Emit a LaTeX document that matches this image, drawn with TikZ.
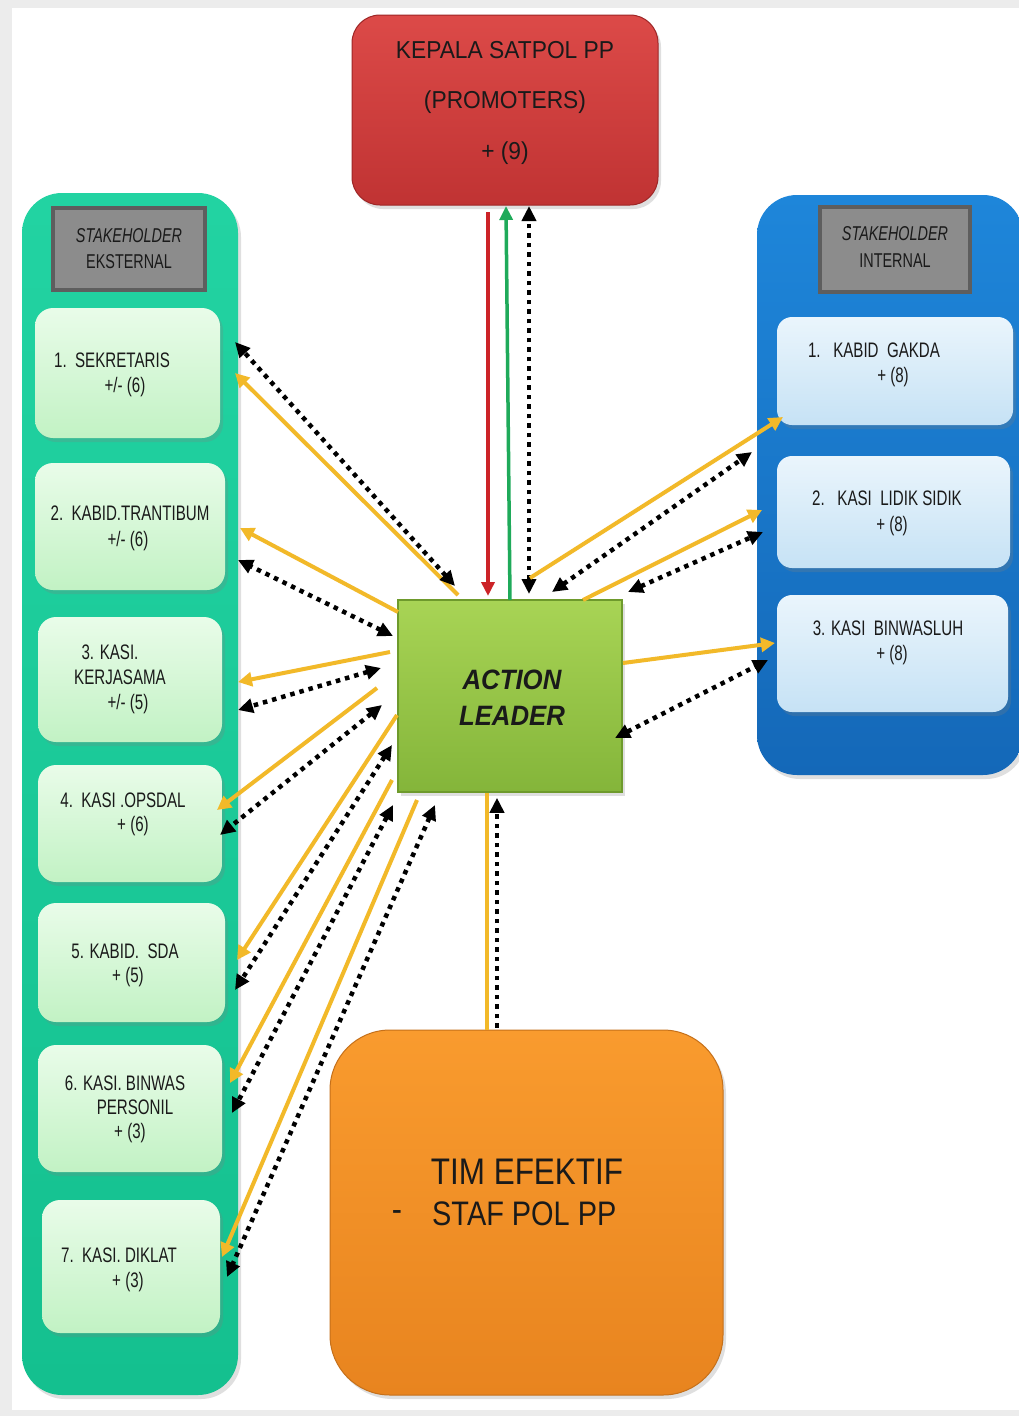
\documentclass[tikz,border=0pt]{standalone}
\usepackage{fontspec}
\setmainfont{Liberation Sans}
\newfontfamily\fNarrow[FakeStretch=0.72]{Liberation Sans}
\newfontfamily\fTop[FakeStretch=0.93]{Liberation Sans}
\newfontfamily\fAL[FakeStretch=0.92]{Liberation Sans}
\newfontfamily\fTim[FakeStretch=0.85]{Liberation Sans}
\usetikzlibrary{arrows.meta,shadows,calc}
\definecolor{bgGray}{HTML}{ECECEC}
\definecolor{txtc}{HTML}{1A1A1A}
\definecolor{redTop}{HTML}{DC4A48}
\definecolor{redBot}{HTML}{C03333}
\definecolor{redEdge}{HTML}{9E2626}
\definecolor{tealTop}{HTML}{22D3A2}
\definecolor{tealBot}{HTML}{14C08F}
\definecolor{lgTop}{HTML}{E9FCE9}
\definecolor{lgBot}{HTML}{C2F2C4}
\definecolor{blueTop}{HTML}{1E86DA}
\definecolor{blueBot}{HTML}{1468B8}
\definecolor{lbTop}{HTML}{EAF5FC}
\definecolor{lbBot}{HTML}{C6E2F5}
\definecolor{hdrFill}{HTML}{8C8C8C}
\definecolor{hdrEdge}{HTML}{5E5E5E}
\definecolor{alTop}{HTML}{A8D455}
\definecolor{alBot}{HTML}{84B53A}
\definecolor{alEdge}{HTML}{6E9A2C}
\definecolor{orTop}{HTML}{F99B2E}
\definecolor{orBot}{HTML}{E8841F}
\definecolor{arrY}{HTML}{F2B929}
\definecolor{arrR}{HTML}{CC2327}
\definecolor{arrG}{HTML}{1FAA5A}
\tikzset{
  shd/.style={drop shadow={opacity=0.25,shadow xshift=3pt,shadow yshift=-4pt}},
  container/.style={rectangle,rounded corners=40pt,inner sep=0pt,shd},
  hdrbox/.style={rectangle,fill=hdrFill,draw=hdrEdge,line width=4pt,inner sep=0pt,
     minimum width=#1},
  lbox/.style={rectangle,rounded corners=18pt,top color=lgTop,bottom color=lgBot,
     inner sep=0pt,shd},
  rbox/.style={rectangle,rounded corners=15pt,top color=lbTop,bottom color=lbBot,
     inner sep=0pt,shd},
  tl/.style={inner sep=0pt,text=txtc,font=\fNarrow\fontsize{21}{24}\selectfont},
  hl/.style={inner sep=0pt,text=txtc,font=\fNarrow\fontsize{20}{23}\selectfont},
  yl/.style={draw=arrY,line width=4pt},
  ya/.style={yl,-{Triangle[length=14pt,width=14pt]}},
  dt/.style={draw=black,line width=4.5pt,dash pattern=on 4.5pt off 5pt,
     {Triangle[length=15pt,width=14pt]}-{Triangle[length=15pt,width=14pt]}},
  dtone/.style={draw=black,line width=4.5pt,dash pattern=on 4.5pt off 5pt,
     -{Triangle[length=15pt,width=14pt]}},
}
\begin{document}
\begin{tikzpicture}[x=1pt,y=-1pt]
\useasboundingbox (0,0) rectangle (1019,1416);
\clip (0,0) rectangle (1019,1416);
\fill[bgGray] (0,0) rectangle (1019,1416);
\fill[white] (12,8) rectangle (1019,1410);

% ---- containers
\node[container,top color=tealTop,bottom color=tealBot,minimum width=216pt,minimum height=1202pt] (EXT) at (130,794) {};
\node[container,top color=blueTop,bottom color=blueBot,minimum width=266pt,minimum height=580pt] (INT) at (890,485) {};

% ---- headers
\node[hdrbox=152pt,minimum height=82pt] (HE) at (129,249) {};
\node[hl,font=\fNarrow\itshape\fontsize{20}{23}\selectfont] (HE1) at (129,236) {STAKEHOLDER};
\node[hl] (HE2) at (129,262) {EKSTERNAL};
\node[hdrbox=150pt,minimum height=85pt] (HI) at (895,249.5) {};
\node[hl,font=\fNarrow\itshape\fontsize{20}{23}\selectfont] (HI1) at (895,234) {STAKEHOLDER};
\node[hl] (HI2) at (895,261) {INTERNAL};

% ---- left boxes
\node[lbox,minimum width=185pt,minimum height=130pt] (L1) at (127.5,373) {};
\node[tl] (L1a) at (112,360) {1.\ \ SEKRETARIS};
\node[tl] (L1b) at (125,387) {+/- (6)};
\node[lbox,minimum width=190pt,minimum height=127pt] (L2) at (130,526.5) {};
\node[tl] (L2a) at (130,513) {2.\ \ KABID.TRANTIBUM};
\node[tl] (L2b) at (128,541) {+/- (6)};
\node[lbox,minimum width=184pt,minimum height=125pt] (L3) at (130,679.5) {};
\node[tl] (L3a) at (110,652) {3. KASI.};
\node[tl] (L3b) at (120,677) {KERJASAMA};
\node[tl] (L3c) at (128,704) {+/- (5)};
\node[lbox,minimum width=184pt,minimum height=117pt] (L4) at (130,823.5) {};
\node[tl] (L4a) at (123,800) {4.\ \ KASI .OPSDAL};
\node[tl] (L4b) at (133,826) {+ (6)};
\node[lbox,minimum width=187pt,minimum height=119pt] (L5) at (131.5,962.5) {};
\node[tl] (L5a) at (125,951) {5. KABID.\ \ SDA};
\node[tl] (L5b) at (128,977) {+ (5)};
\node[lbox,minimum width=184pt,minimum height=127pt] (L6) at (130,1108.5) {};
\node[tl] (L6a) at (125,1083) {6. KASI. BINWAS};
\node[tl] (L6b) at (135,1107) {PERSONIL};
\node[tl] (L6c) at (130,1133) {+ (3)};
\node[lbox,minimum width=178pt,minimum height=133pt] (L7) at (131,1266.5) {};
\node[tl] (L7a) at (119,1255) {7.\ \ KASI. DIKLAT};
\node[tl] (L7b) at (128,1282) {+ (3)};

% ---- right boxes
\node[rbox,minimum width=236pt,minimum height=108pt] (R1) at (895,371) {};
\node[tl] (R1a) at (874,350) {1.\ \ \ KABID\ \ GAKDA};
\node[tl] (R1b) at (893,377) {+ (8)};
\node[rbox,minimum width=233pt,minimum height=112pt] (R2) at (893.5,512) {};
\node[tl] (R2a) at (887,498) {2.\ \ \ KASI\ \ LIDIK SIDIK};
\node[tl] (R2b) at (892,526) {+ (8)};
\node[rbox,minimum width=231pt,minimum height=117pt] (R3) at (892.5,653.5) {};
\node[tl] (R3a) at (888,628) {3. KASI\ \ BINWASLUH};
\node[tl] (R3b) at (892,655) {+ (8)};

% ---- top box
\node[rectangle,rounded corners=28pt,top color=redTop,bottom color=redBot,draw=redEdge,line width=1pt,
  minimum width=306pt,minimum height=190pt,shd] (KP) at (505,110) {};
\node[inner sep=0pt,text=txtc,font=\fTop\fontsize{24.5}{28}\selectfont] (KP1) at (505,50) {KEPALA SATPOL PP};
\node[inner sep=0pt,text=txtc,font=\fTop\fontsize{24.5}{28}\selectfont] (KP2) at (505,102) {(PROMOTERS)};
\node[inner sep=0pt,text=txtc,font=\fTop\fontsize{24.5}{28}\selectfont] (KP3) at (505,153) {+ (9)};

% ---- action leader
\node[rectangle,top color=alTop,bottom color=alBot,draw=alEdge,line width=1.5pt,
  minimum width=224pt,minimum height=192pt,shd] (AL) at (510,696) {};
\node[inner sep=0pt,text=txtc,font=\fAL\bfseries\itshape\fontsize{28}{32}\selectfont] (AL1) at (512,680) {ACTION};
\node[inner sep=0pt,text=txtc,font=\fAL\bfseries\itshape\fontsize{28}{32}\selectfont] (AL2) at (512,716) {LEADER};

% ---- orange team box
\node[rectangle,rounded corners=60pt,top color=orTop,bottom color=orBot,draw=orBot!85!black,line width=1pt,
  minimum width=393pt,minimum height=365pt,shd] (TIM) at (526.5,1212.5) {};
\node[inner sep=0pt,text=txtc,font=\fTim\fontsize{37}{40}\selectfont] (TIM1) at (527,1172) {TIM EFEKTIF};
\node[inner sep=0pt,text=txtc,font=\fTim\fontsize{36}{38}\selectfont] (TIM2) at (397,1216) {-};
\node[inner sep=0pt,text=txtc,font=\fTim\fontsize{34}{38}\selectfont,anchor=west] (TIM3) at (432,1214) {STAF POL PP};

% ---- connector end points
\coordinate (kpR) at (488,212);   \coordinate (alR) at (488,596);
\coordinate (alG) at (510,600);   \coordinate (kpG) at (506,206);
\coordinate (alK) at (529,594);   \coordinate (kpK) at (529,206);

% top
\draw[draw=arrR,line width=3.5pt,-{Triangle[length=14pt,width=13pt]}] (kpR) -- (alR);
\draw[draw=arrG,line width=3.5pt,-{Triangle[length=14pt,width=13pt]}] (alG) -- (kpG);
\draw[dt] (alK) -- (kpK);

% left: yellow AL -> box, dotted both ways
\draw[ya] (458,595) -- (235,373);
\draw[dt] (455,586) -- (235,342);
\draw[ya] (398,612) -- (240,528);
\draw[dt] (393,636) -- (238,560);
\draw[ya] (390,652) -- (238,682);
\draw[dt] (381,668) -- (238,710);
\draw[ya] (377,688) -- (217,810);
\draw[dt] (382,705) -- (220,835);
\draw[ya] (397,715) -- (237,960);
\draw[dt] (392,745) -- (235,990);
\draw[ya] (392,780) -- (230,1083);
\draw[dt] (393,805) -- (232,1113);
\draw[ya] (417,800) -- (222,1257);
\draw[dt] (435,805) -- (227,1277);

% right
\draw[ya] (530,578) -- (783,417);
\draw[dt] (552,592) -- (752,452);
\draw[ya] (583,600) -- (762,510);
\draw[dt] (628,592) -- (763,532);
\draw[ya] (623,663) -- (775,643);
\draw[dt] (615,738) -- (768,660);

% bottom
\draw[yl] (TIM.north -| 487,0) -- (AL.south -| 487,0);
\draw[dtone] ($(TIM.north -| 497,0)+(0,-2)$) -- ($(AL.south -| 497,0)+(0,5)$);
\end{tikzpicture}
\end{document}
